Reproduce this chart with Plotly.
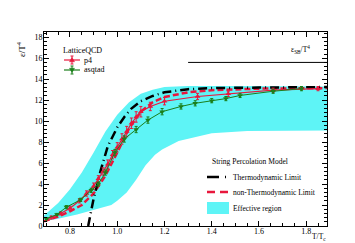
import plotly.graph_objects as go

# ---- data ----
p4_T = [0.72, 0.76, 0.80, 0.84, 0.87, 0.90, 0.92, 0.94, 0.96, 0.98, 1.00, 1.02, 1.04, 1.06, 1.08, 1.10, 1.14, 1.20, 1.34, 1.47, 1.66, 1.85]
p4_eps = [0.8, 1.2, 1.7, 2.4, 3.1, 3.8, 4.5, 5.2, 5.9, 6.8, 7.5, 8.3, 9.0, 9.8, 10.4, 10.9, 11.4, 11.9, 12.35, 12.6, 12.95, 13.1]
p4_err = [0.15, 0.15, 0.2, 0.2, 0.25, 0.3, 0.3, 0.35, 0.4, 0.4, 0.45, 0.5, 0.5, 0.5, 0.5, 0.5, 0.4, 0.35, 0.3, 0.25, 0.2, 0.2]

asq_T = [0.70, 0.745, 0.785, 0.845, 0.89, 0.92, 0.95, 0.99, 1.03, 1.08, 1.13, 1.19, 1.27, 1.33, 1.40, 1.46, 1.52, 1.66, 1.78]
asq_eps = [0.7, 1.1, 1.8, 2.5, 3.4, 4.0, 5.1, 7.0, 8.3, 9.2, 10.1, 10.9, 11.4, 11.7, 11.95, 12.15, 12.45, 12.85, 13.1]
asq_err = [0.1, 0.1, 0.15, 0.15, 0.2, 0.2, 0.25, 0.3, 0.3, 0.3, 0.3, 0.3, 0.25, 0.25, 0.2, 0.2, 0.2, 0.2, 0.2]

thermo_T = [0.877, 0.90, 0.93, 0.96, 1.00, 1.03, 1.06, 1.10, 1.15, 1.20, 1.30, 1.40, 1.60, 1.888]
thermo_eps = [0.0, 2.6, 5.3, 7.6, 9.4, 10.4, 11.2, 11.9, 12.4, 12.75, 13.05, 13.15, 13.2, 13.25]

nonthermo_T = [0.69, 0.75, 0.80, 0.85, 0.90, 0.95, 1.00, 1.05, 1.10, 1.15, 1.20, 1.30, 1.40, 1.50, 1.60, 1.888]
nonthermo_eps = [0.45, 0.9, 1.4, 2.0, 3.1, 4.8, 7.0, 9.3, 10.9, 11.8, 12.3, 12.75, 12.95, 13.05, 13.1, 13.15]

band_up_T = [0.69, 0.75, 0.80, 0.85, 0.90, 0.95, 1.00, 1.05, 1.10, 1.15, 1.20, 1.30, 1.50, 1.888]
band_up = [1.0, 2.2, 3.5, 5.1, 7.0, 9.0, 10.6, 11.8, 12.6, 13.0, 13.25, 13.35, 13.35, 13.3]
band_lo_T = [0.69, 0.75, 0.83, 0.90, 0.975, 1.00, 1.04, 1.08, 1.12, 1.16, 1.19, 1.26, 1.40, 1.55, 1.888]
band_lo = [0.45, 0.7, 1.1, 1.5, 2.0, 2.4, 3.2, 4.4, 5.8, 6.8, 7.3, 8.1, 8.85, 9.05, 9.1]

sb_T = [1.30, 1.888]
sb_eps = [15.6, 15.6]

lattice_names = ["p4", "asqtad"]
model_names = ["Thermodynamic Limit", "non-Thermodynamic Limit", "Effective region"]

RED = "#e8173c"
GREEN = "#1b7f1b"
CYAN = "#5ef4f6"
FONT = "Liberation Serif"

# plot-area geometry (pixels) used to place the hand-made legends
W, H = 355, 243
ML, MR, MT, MB = 36, 36, 24, 25
PW, PH = W - ML - MR, H - MT - MB


def px(x):
    return (x - ML) / PW


def py(y):
    return (H - MB - y) / PH


fig = go.Figure()

fig.add_trace(go.Scatter(
    x=band_up_T + band_lo_T[::-1], y=band_up + band_lo[::-1],
    fill="toself", fillcolor=CYAN, line=dict(width=0), mode="lines",
    name=model_names[2], showlegend=False))

fig.add_trace(go.Scatter(
    x=sb_T, y=sb_eps, mode="lines", line=dict(color="black", width=1),
    showlegend=False))

fig.add_trace(go.Scatter(
    x=nonthermo_T, y=nonthermo_eps, mode="lines",
    line=dict(color=RED, width=2.5, dash="6px,3px"),
    name=model_names[1], showlegend=False))

fig.add_trace(go.Scatter(
    x=thermo_T, y=thermo_eps, mode="lines",
    line=dict(color="black", width=2.5, dash="9px,4px,1px,4px"),
    name=model_names[0], showlegend=False))

fig.add_trace(go.Scatter(
    x=p4_T, y=p4_eps, mode="lines+markers",
    line=dict(color=RED, width=1.2),
    marker=dict(symbol="triangle-up", size=5, color=RED),
    error_y=dict(type="data", array=p4_err, color=RED, thickness=1, width=1.5),
    name=lattice_names[0], showlegend=False))

fig.add_trace(go.Scatter(
    x=asq_T, y=asq_eps, mode="lines+markers",
    line=dict(color=GREEN, width=1),
    marker=dict(symbol="triangle-down", size=5, color=GREEN),
    error_y=dict(type="data", array=asq_err, color=GREEN, thickness=1, width=1.5),
    name=lattice_names[1], showlegend=False))

axis_common = dict(
    showline=True, linecolor="black", linewidth=1, mirror="allticks",
    ticks="inside", ticklen=5, tickcolor="black", tickwidth=1,
    showgrid=False, zeroline=False,
    tickfont=dict(family=FONT, size=8, color="black"),
)

fig.update_xaxes(range=[0.69, 1.888], dtick=0.2, tick0=0.8, tickformat=".1f",
                 ticklabelstandoff=-3,
                 minor=dict(ticks="inside", ticklen=3, dtick=0.05, tick0=0.8, tickcolor="black"),
                 **axis_common)
fig.update_yaxes(range=[0, 18.5], dtick=2, tick0=0,
                 ticklabelstandoff=-1,
                 minor=dict(ticks="inside", ticklen=3, dtick=0.4, tick0=0, tickcolor="black"),
                 **axis_common)

shapes = []
annotations = []

# ---- legend 1: LatticeQCD ----
annotations.append(dict(text="LatticeQCD", xref="paper", yref="paper", x=px(53), y=py(42),
                        xanchor="left", yanchor="middle", showarrow=False,
                        font=dict(family=FONT, size=8, color="black")))
for i, (name, col, up) in enumerate([(lattice_names[0], RED, True), (lattice_names[1], GREEN, False)]):
    yc = 52 + 10 * i
    shapes.append(dict(type="line", xref="paper", yref="paper", x0=px(56), x1=px(72),
                       y0=py(yc), y1=py(yc), line=dict(color=col, width=1.2)))
    shapes.append(dict(type="line", xref="paper", yref="paper", x0=px(64), x1=px(64),
                       y0=py(yc - 4), y1=py(yc + 4), line=dict(color=col, width=1)))
    for yy in (yc - 4, yc + 4):
        shapes.append(dict(type="line", xref="paper", yref="paper", x0=px(62.5), x1=px(65.5),
                           y0=py(yy), y1=py(yy), line=dict(color=col, width=1)))
    if up:
        pts = [(64, yc - 2.5), (61.5, yc + 1.8), (66.5, yc + 1.8)]
    else:
        pts = [(64, yc + 2.5), (61.5, yc - 1.8), (66.5, yc - 1.8)]
    path = "M " + " L ".join(f"{px(a)},{py(b)}" for a, b in pts) + " Z"
    shapes.append(dict(type="path", xref="paper", yref="paper", path=path,
                       fillcolor=col, line=dict(color=col, width=0.5)))
    annotations.append(dict(text=name, xref="paper", yref="paper", x=px(74), y=py(yc),
                            xanchor="left", yanchor="middle", showarrow=False,
                            font=dict(family=FONT, size=8, color="black")))

# ---- legend 2: String Percolation Model ----
annotations.append(dict(text="String Percolation Model", xref="paper", yref="paper",
                        x=px(202), y=py(153), xanchor="left", yanchor="middle", showarrow=False,
                        font=dict(family=FONT, size=7.5, color="black")))
shapes.append(dict(type="line", xref="paper", yref="paper", x0=px(199), x1=px(221),
                   y0=py(169), y1=py(169),
                   line=dict(color="black", width=2.5, dash="12px,6px,1px,6px")))
shapes.append(dict(type="line", xref="paper", yref="paper", x0=px(199), x1=px(221),
                   y0=py(184), y1=py(184),
                   line=dict(color=RED, width=2.5, dash="8px,5px")))
shapes.append(dict(type="rect", xref="paper", yref="paper", x0=px(199), x1=px(221),
                   y0=py(206), y1=py(194), fillcolor=CYAN, line=dict(width=0)))
for name, yc in zip(model_names, [169, 184, 200]):
    annotations.append(dict(text=name, xref="paper", yref="paper", x=px(223), y=py(yc),
                            xanchor="left", yanchor="middle", showarrow=False,
                            font=dict(family=FONT, size=7.5, color="black")))

# ---- axis titles and SB label ----
annotations += [
    dict(text="ε/T<sup>4</sup>", xref="paper", yref="paper", x=px(21), y=py(31),
         xanchor="right", yanchor="top", textangle=-90, showarrow=False,
         font=dict(family=FONT, size=9, color="black")),
    dict(text="T/T<sub>c</sub>", xref="paper", yref="paper", x=px(320), y=py(222),
         xanchor="right", yanchor="top", showarrow=False,
         font=dict(family=FONT, size=7.5, color="black")),
    dict(text="ε<sub>SB</sub>/T<sup>4</sup>", xref="x", yref="y", x=1.825, y=16.8,
         xanchor="right", yanchor="middle", showarrow=False,
         font=dict(family=FONT, size=7.5, color="black")),
]

fig.update_layout(
    width=W, height=H,
    margin=dict(l=ML, r=MR, t=MT, b=MB),
    plot_bgcolor="white", paper_bgcolor="white",
    font=dict(family=FONT, size=7, color="black"),
    showlegend=False,
    shapes=shapes,
    annotations=annotations,
)

fig.write_html("out.html")
